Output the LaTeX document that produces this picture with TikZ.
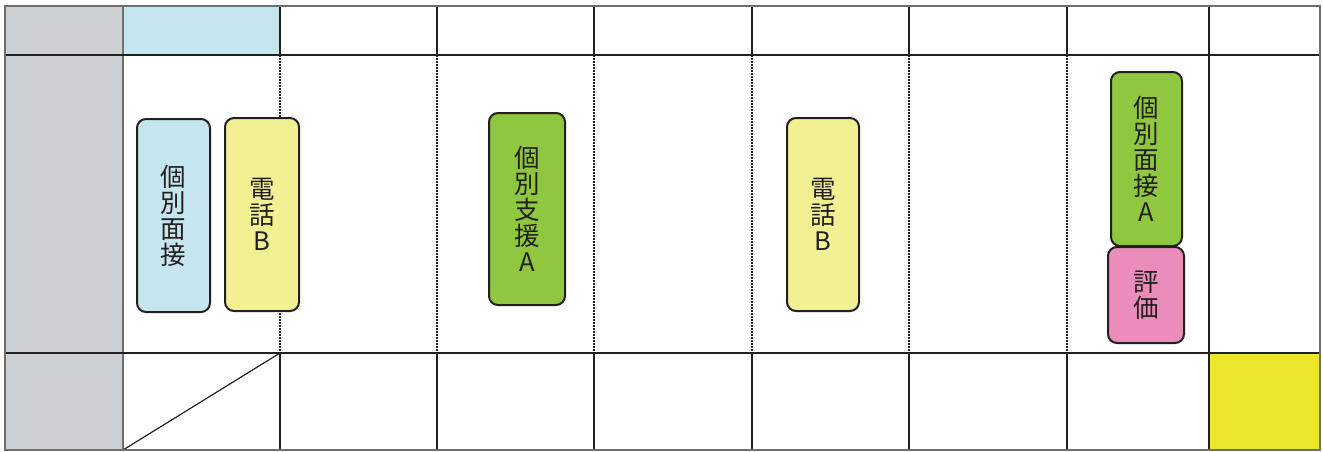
\documentclass[tikz,border=0pt]{standalone}
\usepackage{fontspec}
\newfontfamily\jp{Noto Sans CJK JP}
\definecolor{cellgray}{HTML}{CED1D3}
\definecolor{cellblue}{HTML}{C5E6EE}
\definecolor{cellyellow}{HTML}{EBE52C}
\definecolor{boxblue}{HTML}{C5E6EE}
\definecolor{boxyellow}{HTML}{F1F194}
\definecolor{boxgreen}{HTML}{8FC73E}
\definecolor{boxpink}{HTML}{EA8DBB}
\definecolor{ink}{HTML}{231F20}
\definecolor{gridgray}{HTML}{6E6E6E}
\tikzset{
  box/.style={draw=ink, line width=2pt, rounded corners=9pt, inner sep=0pt,
    align=center, text=ink, font=\jp\fontsize{25.5}{26}\selectfont},
  gridline/.style={draw=ink, line width=1.4pt},
  softline/.style={draw=gridgray, line width=1.6pt},
  dotline/.style={draw=ink, line width=2.2pt, dash pattern=on 2pt off 1pt},
}
\begin{document}
\begin{tikzpicture}[x=1pt,y=-1pt]
\useasboundingbox (0,0) rectangle (1323,451);
% fills
\fill[cellgray] (5,6) rectangle (123,450);
\fill[cellblue] (123,6) rectangle (280,55);
\fill[cellyellow] (1209,353) rectangle (1320,450);
% top and bottom row column lines
\foreach \x in {280,437,594,752,909,1067,1209} {
  \draw[gridline] (\x,6) -- (\x,55);
  \draw[gridline] (\x,353) -- (\x,450);
}
% middle row lines
\foreach \x in {280,437,594,752,909,1067} {
  \draw[dotline] (\x,55) -- (\x,353);
}
\draw[gridline] (1209,55) -- (1209,353);
\draw[softline] (123,6) -- (123,450);
% horizontal lines
\draw[gridline] (5,55) -- (1320,55);
\draw[gridline] (5,353) -- (1320,353);
% diagonal
\draw[ink, line width=1.2pt] (123,450) -- (280,353);
% outer border
\draw[softline, line width=2pt] (5,6) rectangle (1320,450);
% boxes
\node[box, fill=boxblue, minimum width=73pt, minimum height=193pt] (mensetsu) at (173.5,215.5) {個\\別\\面\\接};
\node[box, fill=boxyellow, minimum width=74pt, minimum height=193pt] (denwa1) at (262,214.5) {電\\話\\B};
\node[box, fill=boxgreen, minimum width=76pt, minimum height=192pt] (shien) at (527,209) {個\\別\\支\\援\\A};
\node[box, fill=boxyellow, minimum width=72pt, minimum height=193pt] (denwa2) at (823,214.5) {電\\話\\B};
\node[box, fill=boxgreen, minimum width=71pt, minimum height=174pt] (mensetsuA) at (1146.5,159) {個\\別\\面\\接\\A};
\node[box, fill=boxpink, minimum width=76pt, minimum height=96pt] (hyouka) at (1146,295) {評\\価};
\end{tikzpicture}
\end{document}
